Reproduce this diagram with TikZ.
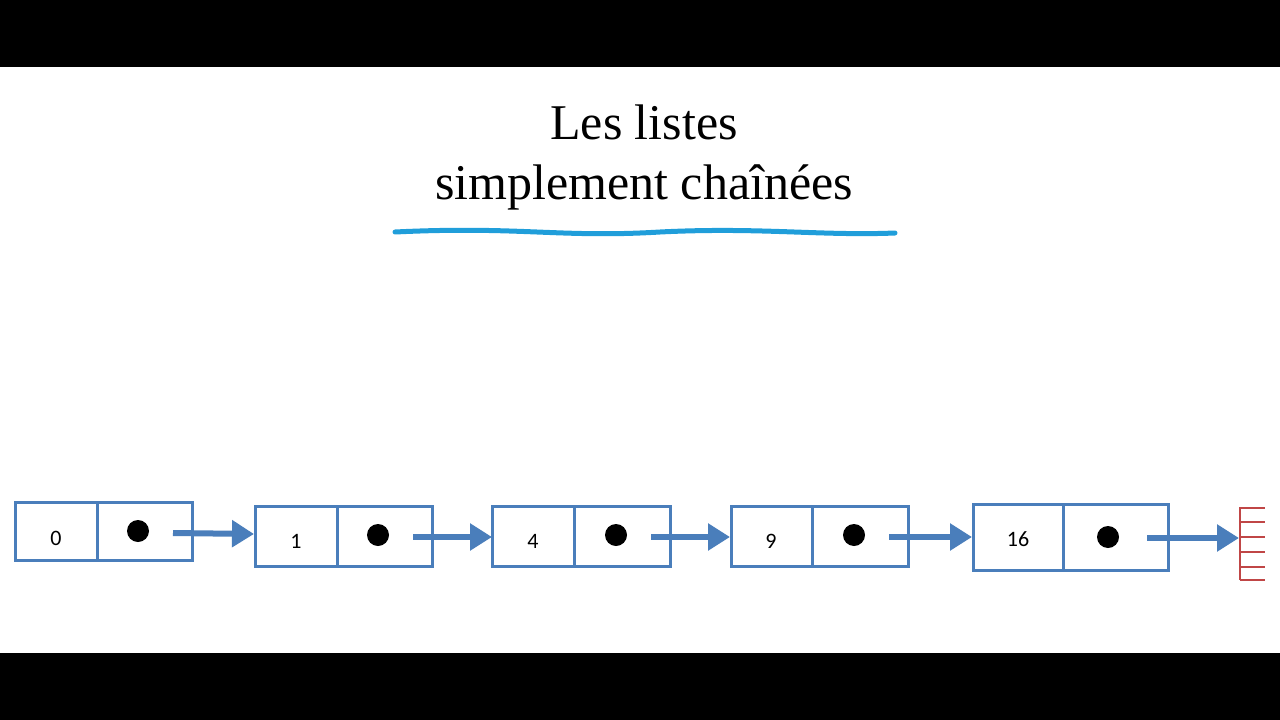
\documentclass[tikz,border=0pt]{standalone}
\usepackage{fontspec}
\setmainfont{Liberation Serif}
\newfontfamily\numfont{Carlito}
\usetikzlibrary{arrows.meta}
\definecolor{boxblue}{RGB}{74,126,187}
\definecolor{ulblue}{RGB}{32,158,218}
\definecolor{gred}{RGB}{192,70,70}
\begin{document}
\begin{tikzpicture}[x=1pt,y=-1pt,
  cell/.style={draw=boxblue,line width=3pt},
  num/.style={font=\numfont\fontsize{22}{22}\selectfont},
  dot/.style={circle,fill=black,minimum size=22pt,inner sep=0pt},
  link/.style={draw=boxblue,line width=6pt,-{Triangle[length=22pt,width=26pt]}}]
\useasboundingbox (0,0) rectangle (1280,720);
\fill[black] (0,0) rectangle (1280,67);
\fill[black] (0,653) rectangle (1280,720);
\node[font=\fontsize{50}{60}\selectfont,align=center] (title) at (644,157) {Les listes\\simplement chaînées};
\draw[ulblue,line width=5pt,line cap=round] (395,232) .. controls (520,226) and (560,238) .. (660,232) .. controls (760,227) and (820,236) .. (895,233);
% boxes
\draw[cell] (15,502) rectangle (192,560) (97,502) -- (97,560);
\draw[cell] (255,506) rectangle (432,566) (337,506) -- (337,566);
\draw[cell] (492,506) rectangle (670,566) (574,506) -- (574,566);
\draw[cell] (731,506) rectangle (908,566) (812,506) -- (812,566);
\draw[cell] (973,504) rectangle (1168,570) (1063,504) -- (1063,570);
\node[num] (n0) at (56,538) {0};
\node[num] (n1) at (296,541) {1};
\node[num] (n4) at (533,541) {4};
\node[num] (n9) at (771,541) {9};
\node[num] (n16) at (1018,539) {16};
\node[dot] (d0) at (138,531) {};
\node[dot] (d1) at (378,535) {};
\node[dot] (d2) at (616,535) {};
\node[dot] (d3) at (854,535) {};
\node[dot] (d4) at (1108,537) {};
\coordinate (a0) at (254,534);
\coordinate (a1) at (492,537);
\coordinate (a2) at (730,537);
\coordinate (a3) at (972,537);
\coordinate (a4) at (1239,538);
\coordinate (s0) at (173,533);
\coordinate (s1) at (413,537);
\coordinate (s2) at (651,537);
\coordinate (s3) at (889,537);
\coordinate (s4) at (1147,538);
\draw[link] (s0) -- (a0);
\draw[link] (s1) -- (a1);
\draw[link] (s2) -- (a2);
\draw[link] (s3) -- (a3);
\draw[link] (s4) -- (a4);
% ground
\draw[gred,line width=2pt] (1240,507) -- (1240,580);
\foreach \y in {508,522,537,552,567,580} \draw[gred,line width=2pt] (1240,\y) -- (1265,\y);
\end{tikzpicture}
\end{document}
